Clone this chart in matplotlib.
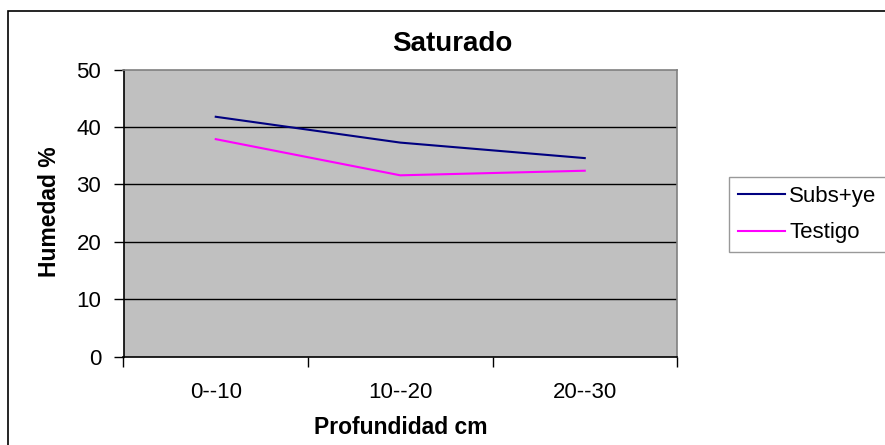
import matplotlib
matplotlib.use("Agg")
import matplotlib.pyplot as plt
from matplotlib.patches import Rectangle
from matplotlib.lines import Line2D

plt.rcParams['font.family'] = ['Liberation Sans', 'DejaVu Sans']

categories = ["0--10", "10--20", "20--30"]
subs_ye = [41.8, 37.3, 34.6]
testigo = [37.9, 31.6, 32.4]
y_ticks = [0, 10, 20, 30, 40, 50]

W, H = 885, 445
fig = plt.figure(figsize=(W / 100, H / 100), dpi=100)
fig.patch.set_facecolor("white")

# outer chart border
fig.add_artist(Rectangle((8 / W, -0.1), 1.2, 1.1 - 11 / H, transform=fig.transFigure,
                         fill=False, edgecolor="black", linewidth=1.2))

left, right, top, bottom = 123.5, 677, 69.7, 356.7
ax = fig.add_axes([left / W, 1 - bottom / H, (right - left) / W, (bottom - top) / H])
ax.set_facecolor("#c0c0c0")

x = list(range(len(categories)))
ax.plot(x, subs_ye, color="#000080", linewidth=1.5, label="Subs+ye", zorder=3)
ax.plot(x, testigo, color="#ff00ff", linewidth=1.5, label="Testigo", zorder=3)

ax.set_xlim(-0.5, len(categories) - 0.5)
ax.set_ylim(0, 50)
ax.set_yticks(y_ticks)
ax.set_yticklabels([str(v) for v in y_ticks], fontsize=16)
ax.set_xticks([i - 0.5 for i in range(len(categories) + 1)])
ax.set_xticklabels([])
ax.set_xticks(x, minor=True)
ax.set_xticklabels(categories, minor=True, fontsize=16)
ax.tick_params(axis="x", which="minor", length=0, pad=18)
ax.tick_params(axis="x", which="major", length=7, width=1, color="black", direction="out")
ax.tick_params(axis="y", length=7, width=1, color="black", direction="out", pad=9)

for v in y_ticks[1:-1]:
    ax.axhline(v, color="black", linewidth=1, zorder=1)

ax.spines["left"].set_color("black")
ax.spines["bottom"].set_color("black")
ax.spines["top"].set_color("#808080")
ax.spines["right"].set_color("#808080")
for s in ax.spines.values():
    s.set_linewidth(1.2)

fig.text(452 / W, 1 - 44 / H, "Saturado", fontsize=20, fontweight="bold",
         ha="center", va="center")

ax.set_xlabel("Profundidad cm", fontsize=16.5, fontweight="bold", va="center")
ax.xaxis.set_label_coords(0.5, (bottom - 428) / (bottom - top))
ax.set_ylabel("Humedad %", fontsize=16.5, fontweight="bold", va="center")
ax.yaxis.set_label_coords((50 - left) / (right - left), (bottom - 211.5) / (bottom - top))

handles = [Line2D([], [], color="#000080", linewidth=1.5),
           Line2D([], [], color="#ff00ff", linewidth=1.5)]
leg = fig.legend(handles, ["Subs+ye", "Testigo"], loc="upper left",
                 bbox_to_anchor=(729 / W, 1 - 177 / H), fontsize=16,
                 frameon=True, fancybox=False, borderpad=0.4,
                 handlelength=2.1, handletextpad=0.22, labelspacing=0.7,
                 borderaxespad=0)
leg.get_frame().set_edgecolor("#808080")
leg.get_frame().set_linewidth(1.0)

fig.savefig("out.png", dpi=100, facecolor="white")
